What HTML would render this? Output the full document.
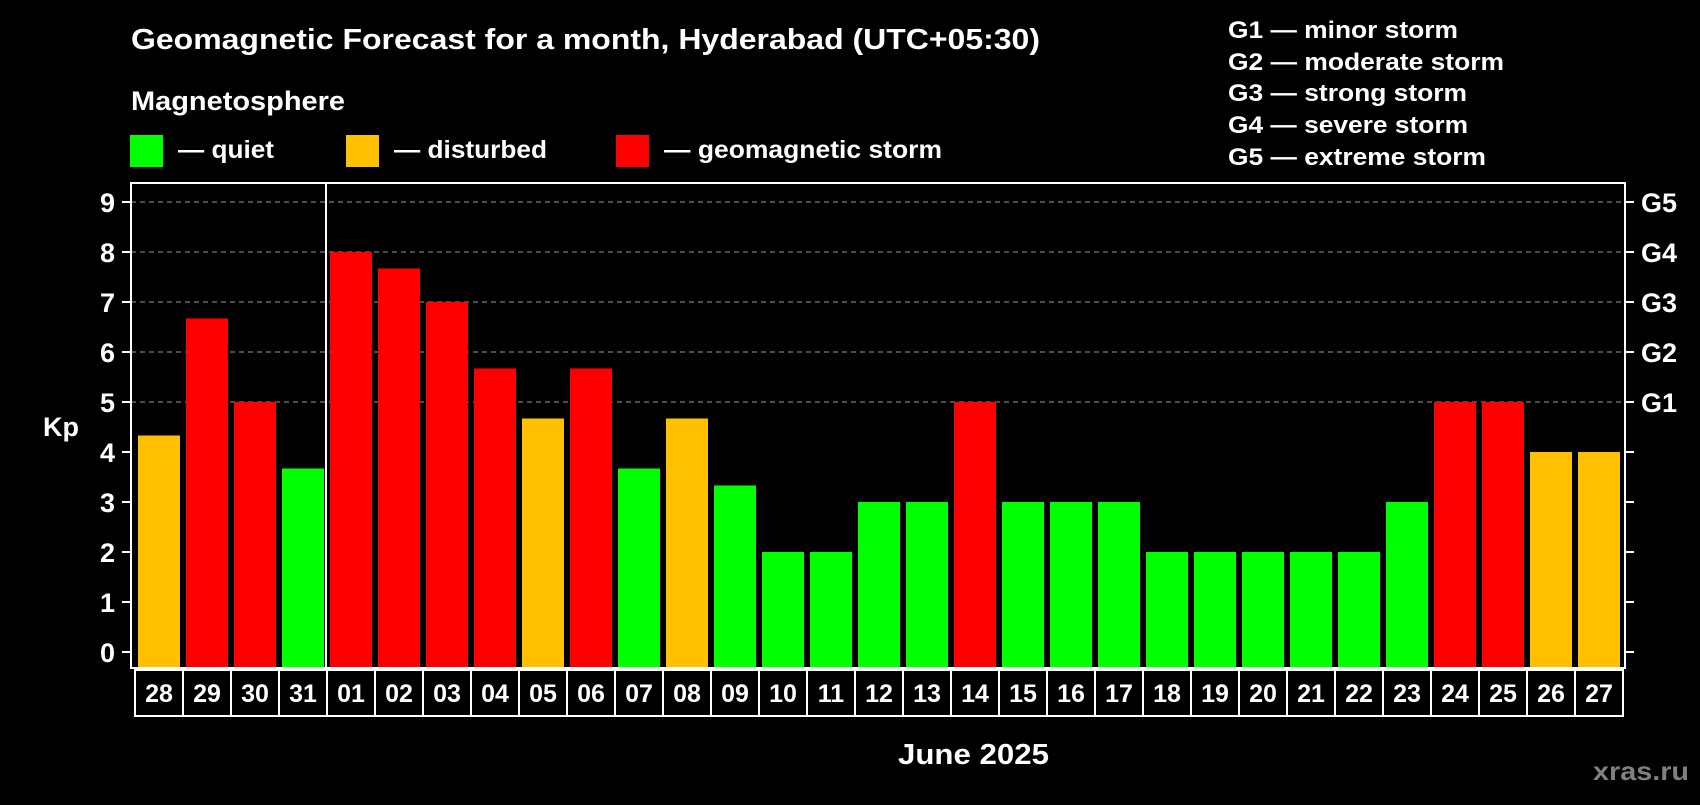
<!DOCTYPE html>
<html><head><meta charset="utf-8"><style>
body{margin:0;background:#000;width:1700px;height:800px;overflow:hidden;font-family:"Liberation Sans",sans-serif;}
svg text{font-family:"Liberation Sans",sans-serif;font-weight:bold;fill:#fff}
</style></head><body>
<svg id="c" width="1700" height="800" xmlns="http://www.w3.org/2000/svg">
<text x="131" y="49" font-size="29" textLength="909" lengthAdjust="spacingAndGlyphs">Geomagnetic Forecast for a month, Hyderabad (UTC+05:30)</text>
<text x="131" y="110" font-size="27" textLength="214" lengthAdjust="spacingAndGlyphs">Magnetosphere</text>
<rect x="130" y="135" width="33" height="32" fill="#00ff00"/>
<text x="178" y="158" font-size="25" textLength="96" lengthAdjust="spacingAndGlyphs">— quiet</text>
<rect x="346" y="135" width="33" height="32" fill="#ffc000"/>
<text x="394" y="158" font-size="25" textLength="153" lengthAdjust="spacingAndGlyphs">— disturbed</text>
<rect x="616" y="135" width="33" height="32" fill="#ff0000"/>
<text x="664" y="158" font-size="25" textLength="278" lengthAdjust="spacingAndGlyphs">— geomagnetic storm</text>
<g font-size="24">
<text x="1228" y="38" textLength="230" lengthAdjust="spacingAndGlyphs">G1 — minor storm</text>
<text x="1228" y="70" textLength="276" lengthAdjust="spacingAndGlyphs">G2 — moderate storm</text>
<text x="1228" y="101" textLength="239" lengthAdjust="spacingAndGlyphs">G3 — strong storm</text>
<text x="1228" y="133" textLength="240" lengthAdjust="spacingAndGlyphs">G4 — severe storm</text>
<text x="1228" y="165" textLength="258" lengthAdjust="spacingAndGlyphs">G5 — extreme storm</text>
</g>
<text x="43" y="436" font-size="27">Kp</text>
<text x="898" y="764" font-size="29" textLength="151" lengthAdjust="spacingAndGlyphs">June 2025</text>
<text x="1593" y="780" font-size="26" textLength="96" lengthAdjust="spacingAndGlyphs" style="fill:#808080">xras.ru</text>
<g id="plot"></g>
</svg>
<script>
const days=["28","29","30","31","01","02","03","04","05","06","07","08","09","10","11","12","13","14","15","16","17","18","19","20","21","22","23","24","25","26","27"];
const kp=[4.33,6.67,5,3.67,8,7.67,7,5.67,4.67,5.67,3.67,4.67,3.33,2,2,3,3,5,3,3,3,2,2,2,2,2,3,5,5,4,4];
const yTicks=[0,1,2,3,4,5,6,7,8,9];
const gLabels=["G1","G2","G3","G4","G5"];
const gLevels=[5,6,7,8,9];
const NS="http://www.w3.org/2000/svg";
const g=document.getElementById('plot');
const L=131,R=1625,T=183,B=668,slot0=135,slotW=48;
const y=v=>652-v*50;
const x=i=>slot0+i*slotW;
function mk(t,a){const e=document.createElementNS(NS,t);for(const k in a)e.setAttribute(k,a[k]);g.appendChild(e);return e;}
gLevels.forEach(v=>{const e=mk('line',{x1:L,x2:R,y1:y(v),y2:y(v),stroke:'#999','stroke-dasharray':'5,4','stroke-width':1});

});
kp.forEach((v,i)=>{const col=v>=5?'#ff0000':(v>=4?'#ffc000':'#00ff00');
const r=mk('rect',{x:x(i)+3,y:y(v),width:42,height:B-y(v),fill:col});


const b=mk('rect',{x:x(i),y:670,width:slotW,height:46,fill:'none',stroke:'#fff','stroke-width':2});


const t=mk('text',{x:x(i)+slotW/2,y:702,'font-size':25,'text-anchor':'middle'});t.textContent=days[i];

});
const f=mk('rect',{x:L,y:T,width:R-L,height:B-T,fill:'none',stroke:'#fff','stroke-width':2});


const sep=mk('line',{x1:x(4)-1,x2:x(4)-1,y1:T,y2:B,stroke:'#fff','stroke-width':2});


yTicks.forEach(v=>{
const a=mk('line',{x1:122,x2:L,y1:y(v),y2:y(v),stroke:'#fff','stroke-width':2});


const b=mk('line',{x1:R,x2:1634,y1:y(v),y2:y(v),stroke:'#fff','stroke-width':2});


const t=mk('text',{x:115,y:y(v)+10,'font-size':27,'text-anchor':'end'});t.textContent=v;

});
gLevels.forEach((v,i)=>{const t=mk('text',{x:1641,y:y(v)+10,'font-size':27});t.textContent=gLabels[i];

});
</script>
</body></html>
